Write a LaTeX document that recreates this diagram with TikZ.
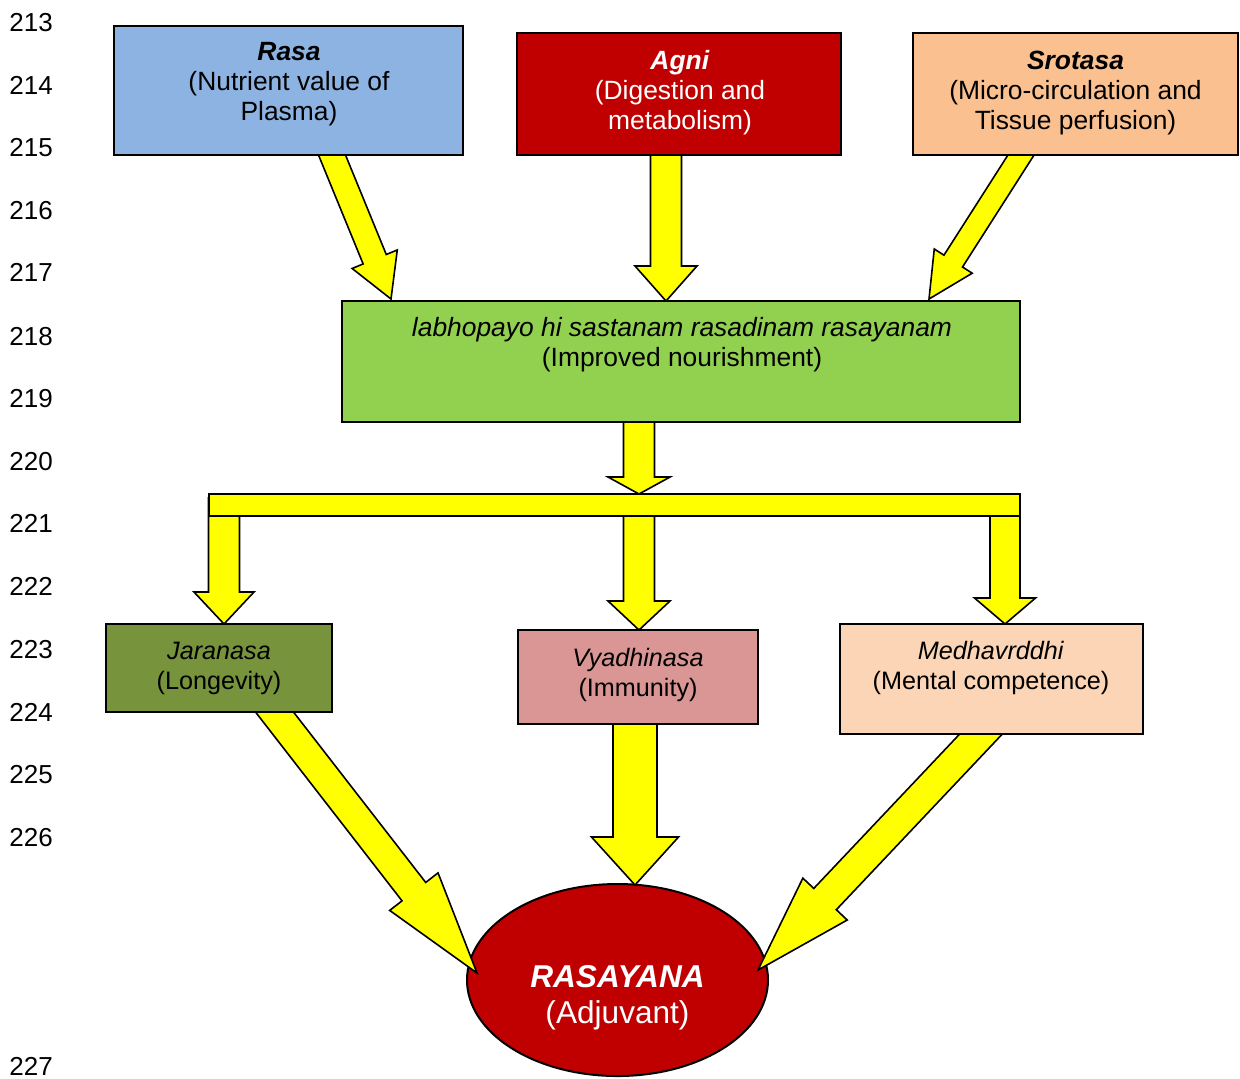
\documentclass[tikz,border=0pt]{standalone}
\usepackage{fontspec}
\setmainfont{Liberation Sans}
\usetikzlibrary{calc,shapes.geometric}
\definecolor{rasaC}{HTML}{8DB3E2}
\definecolor{agniC}{HTML}{C00000}
\definecolor{srotC}{HTML}{FAC090}
\definecolor{greenC}{HTML}{92D050}
\definecolor{jarC}{HTML}{77933C}
\definecolor{vyaC}{HTML}{D99694}
\definecolor{medC}{HTML}{FBD5B5}
\definecolor{arrowC}{HTML}{FFFF00}
\pgfdeclarelayer{bglayer}
\pgfdeclarelayer{arrowlayer}
\pgfsetlayers{bglayer,arrowlayer,main}
% #1 name, #2 start, #3 tip, #4 shaft half width, #5 head half width, #6 head length
\newcommand{\blockarrow}[6]{%
  \coordinate (#1a) at ($(#2)!-9pt!(#3)$);
  \coordinate (#1b) at ($(#3)!#6!(#2)$);
  \begin{pgfonlayer}{arrowlayer}
  \draw[barrow] ($(#1a)!#4!90:(#3)$) -- ($(#1b)!#4!90:(#3)$) -- ($(#1b)!#5!90:(#3)$)
    -- (#3) -- ($(#1b)!#5!-90:(#3)$) -- ($(#1b)!#4!-90:(#3)$) -- ($(#1a)!#4!-90:(#3)$) -- cycle;
  \end{pgfonlayer}
}
\begin{document}
\begin{tikzpicture}[x=0.5pt,y=-0.5pt,
  box/.style={draw,line width=1pt,inner sep=0pt,outer sep=0pt},
  txt/.style={align=center,inner sep=0pt,font=\fontsize{13.2}{15}\selectfont},
  txtsm/.style={align=center,inner sep=0pt,font=\fontsize{12.6}{15}\selectfont},
  lnum/.style={anchor=base west,inner sep=0pt,font=\fontsize{13}{15}\selectfont},
  barrow/.style={fill=arrowC,draw=black,line width=0.8pt,line join=miter}]
\useasboundingbox (0,0) rectangle (1240,1078);

% line numbers
\node[lnum] (n213) at (9,31) {213};
\node[lnum] (n214) at (9,94) {214};
\node[lnum] (n215) at (9,156) {215};
\node[lnum] (n216) at (9,219) {216};
\node[lnum] (n217) at (9,281) {217};
\node[lnum] (n218) at (9,345) {218};
\node[lnum] (n219) at (9,407) {219};
\node[lnum] (n220) at (9,470) {220};
\node[lnum] (n221) at (9,532) {221};
\node[lnum] (n222) at (9,595) {222};
\node[lnum] (n223) at (9,658) {223};
\node[lnum] (n224) at (9,721) {224};
\node[lnum] (n225) at (9,783) {225};
\node[lnum] (n226) at (9,846) {226};
\node[lnum] (n227) at (9,1075) {227};

% boxes
\node[box,fill=rasaC,minimum width=174.5pt,minimum height=64.5pt] (rasa) at (288.5,90.5) {};
\node[box,fill=agniC,minimum width=162pt,minimum height=61pt] (agni) at (679,94) {};
\node[box,fill=srotC,minimum width=162.5pt,minimum height=61pt] (srot) at (1075.5,94) {};
\node[box,fill=greenC,minimum width=339pt,minimum height=60.5pt] (green) at (681,361.5) {};
\node[box,fill=arrowC,minimum width=405.5pt,minimum height=11pt] (bar) at (614.5,505) {};
\node[box,fill=jarC,minimum width=113pt,minimum height=44pt] (jar) at (219,668) {};
\node[box,fill=vyaC,minimum width=120pt,minimum height=47pt] (vya) at (638,677) {};
\node[box,fill=medC,minimum width=151.5pt,minimum height=55pt] (med) at (991.5,679) {};
\begin{pgfonlayer}{bglayer}
\node[box,ellipse,fill=agniC,minimum width=150.5pt,minimum height=96pt] (ell) at (617.5,980) {};
\end{pgfonlayer}

% texts
\node[txt] (rasaT) at (289,84) {\textbf{\textit{Rasa}}\\(Nutrient value of\\Plasma)};
\node[txt,text=white] (agniT) at (680,93) {\textbf{\textit{Agni}}\\(Digestion and\\metabolism)};
\node[txt] (srotT) at (1075.5,93) {\textbf{\textit{Srotasa}}\\(Micro-circulation and\\Tissue perfusion)};
\node[txt] (greenT) at (682,345) {\textit{labhopayo hi sastanam rasadinam rasayanam}\\(Improved nourishment)};
\node[txtsm] (jarT) at (219,668) {\textit{Jaranasa}\\(Longevity)};
\node[txtsm] (vyaT) at (638,675) {\textit{Vyadhinasa}\\(Immunity)};
\node[txtsm] (medT) at (991,668) {\textit{Medhavrddhi}\\(Mental competence)};
\node[align=center,inner sep=0pt,text=white,font=\fontsize{15.8}{18}\selectfont] (ellT) at (617.5,998)
  {\textbf{\textit{RASAYANA}}\\(Adjuvant)};

% connector end points
\coordinate (rasaS) at (332,0 |- rasa.south);
\coordinate (rasaE) at (391,299);
\coordinate (agniS) at (666,0 |- agni.south);
\coordinate (agniE) at (666,0 |- green.north);
\coordinate (srotS) at (1021,0 |- srot.south);
\coordinate (srotE) at (929,299);
\coordinate (greenS) at (639,0 |- green.south);
\coordinate (barT) at (639,0 |- bar.north);
\coordinate (barL) at (224,0 |- bar.south);
\coordinate (barM) at (639,0 |- bar.south);
\coordinate (barR) at (1005,0 |- bar.south);
\coordinate (jarE) at (224,0 |- jar.north);
\coordinate (vyaE) at (639,0 |- vya.north);
\coordinate (medE) at (1005,0 |- med.north);
\coordinate (jarS) at (274.5,0 |- jar.south);
\coordinate (vyaS) at (635,0 |- vya.south);
\coordinate (medS) at (981,0 |- med.south);
\coordinate (ellA) at (477,973);
\coordinate (ellB) at (635,885);
\coordinate (ellC) at (758,970);

% arrows
\blockarrow{a1}{rasaS}{rasaE}{6.25pt}{12.2pt}{21.5pt}
\blockarrow{a2}{agniS}{agniE}{7.75pt}{15.5pt}{17.5pt}
\blockarrow{a3}{srotS}{srotE}{5.5pt}{11.25pt}{22.5pt}
\blockarrow{a4}{greenS}{barT}{7.75pt}{15.5pt}{8.5pt}
\blockarrow{a5}{barL}{jarE}{7.75pt}{15pt}{16pt}
\blockarrow{a6}{barM}{vyaE}{7.75pt}{15.5pt}{14.5pt}
\blockarrow{a7}{barR}{medE}{7.5pt}{15.25pt}{13pt}
\blockarrow{a8}{jarS}{ellA}{7.5pt}{15.3pt}{51.5pt}
\blockarrow{a9}{vyaS}{ellB}{11pt}{21.75pt}{24pt}
\blockarrow{a10}{medS}{ellC}{7.75pt}{15.25pt}{48.8pt}
\end{tikzpicture}
\end{document}
